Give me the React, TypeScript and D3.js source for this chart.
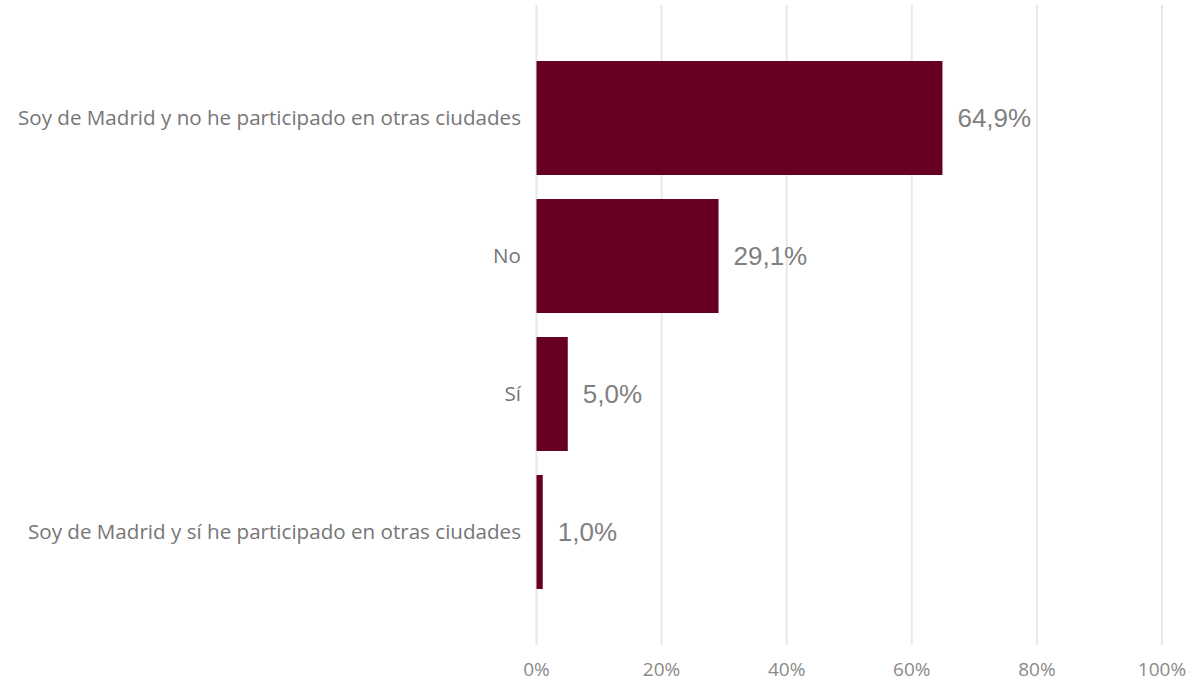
import React from "react";
import * as d3 from "d3";

const categories = [
  "Soy de Madrid y no he participado en otras ciudades",
  "No",
  "Sí",
  "Soy de Madrid y sí he participado en otras ciudades",
];
const values = [64.9, 29.1, 5.0, 1.0];
const ticks = [0, 20, 40, 60, 80, 100];

const W = 1194;
const H = 685;
const BAR = "#670020";

export default function App() {
  const x = d3.scaleLinear().domain([0, 100]).range([536.5, 1162]);
  const y = d3
    .scaleBand<string>()
    .domain(categories)
    .range([5, 645])
    .paddingInner(0.174)
    .paddingOuter(0.406);
  const fmt = (v: number) => v.toFixed(1).replace(".", ",") + "%";
  return (
    <svg
      width={W}
      height={H}
      style={{ position: "absolute", left: 0, top: 0, background: "#fff" }}
    >
      {ticks.map((t) => (
        <g key={t}>
          <line
            x1={x(t)}
            x2={x(t)}
            y1={5}
            y2={645}
            stroke="#e8e8e8"
            strokeWidth={2}
          />
          <text
            x={x(t)}
            y={676}
            textAnchor="middle"
            fontFamily="'Open Sans', sans-serif"
            fontSize={19}
            fill="#8a8a8a"
          >
            {t}%
          </text>
        </g>
      ))}
      {categories.map((c, i) => {
        const yy = y(c)!;
        const bw = y.bandwidth();
        return (
          <g key={c}>
            <rect
              x={x(0)}
              y={yy}
              width={x(values[i]) - x(0)}
              height={bw}
              fill={BAR}
            />
            <text
              x={521}
              y={yy + bw / 2}
              dy="0.35em"
              textAnchor="end"
              fontFamily="'Open Sans', sans-serif"
              fontSize={20.6}
              fill="#767676"
            >
              {c}
            </text>
            <text
              x={x(values[i]) + 15}
              y={yy + bw / 2}
              dy="0.35em"
              fontFamily="'Liberation Sans', Arial, sans-serif"
              fontSize={26}
              fill="#808080"
            >
              {fmt(values[i])}
            </text>
          </g>
        );
      })}
    </svg>
  );
}
